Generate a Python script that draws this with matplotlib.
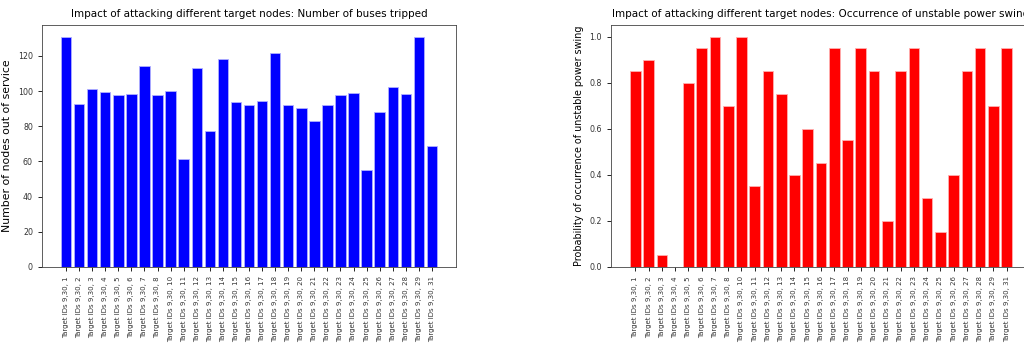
import matplotlib
matplotlib.use('Agg')
from matplotlib import pyplot as plt
import numpy as np

# target ids (9 and 30 are always part of the attack set)
targets = [1, 2, 3, 4, 5, 6, 7, 8, 10, 11, 12, 13, 14, 15, 16, 17, 18, 19, 20,
           21, 22, 23, 24, 25, 26, 27, 28, 29, 31]
labels = ['Target IDs 9,30, %d' % t for t in targets]

# average number of buses tripped per target
buses_tripped = [131, 92.8, 101.4, 99.5, 97.8, 98.5, 114.5, 97.8, 100, 61.5,
                 113, 77.3, 118.5, 94, 91.9, 94.4, 121.9, 92.3, 90.4, 83,
                 91.9, 97.8, 99.1, 55, 88.3, 102.3, 98.5, 130.8, 68.5]

# probability of unstable power swing per target
swing_prob = [0.85, 0.9, 0.05, 0.0, 0.8, 0.95, 1.0, 0.7, 1.0, 0.35,
              0.85, 0.75, 0.4, 0.6, 0.45, 0.95, 0.55, 0.95, 0.85, 0.2,
              0.85, 0.95, 0.3, 0.15, 0.4, 0.85, 0.95, 0.7, 0.95]

x = np.arange(len(targets))

fig = plt.figure(figsize=(10.24, 3.43), dpi=100)

ax1 = fig.add_axes([42 / 1024, 1 - 267 / 343, 414 / 1024, 242 / 343])
ax1.bar(x, buses_tripped, color='blue', edgecolor='#b0b0ff', linewidth=0.6)
ax1.set_xticks(x)
ax1.set_xticklabels(labels, rotation=90, fontsize=5)
ax1.tick_params(axis='y', labelsize=5.7)
ax1.set_ylabel('Number of nodes out of service', fontsize=7.8)
ax1.set_title('Impact of attacking different target nodes: Number of buses tripped',
              fontsize=7.5)

ax2 = fig.add_axes([611 / 1024, 1 - 267 / 343, 420 / 1024, 242 / 343])
ax2.bar(x, swing_prob, color='red', edgecolor='#ffb0b0', linewidth=0.6)
ax2.set_xticks(x)
ax2.set_xticklabels(labels, rotation=90, fontsize=5)
ax2.tick_params(axis='y', labelsize=5.7)
ax2.set_ylabel('Probability of occurrence of unstable power swing', fontsize=6.9)
ax2.set_title('Impact of attacking different target nodes: Occurrence of unstable power swing',
              fontsize=7.5)

for ax in (ax1, ax2):
    for s in ax.spines.values():
        s.set_linewidth(0.6)
        s.set_color('#444444')
    ax.tick_params(width=0.6, length=3, labelcolor='#333333')

plt.savefig('out.png', dpi=100)
